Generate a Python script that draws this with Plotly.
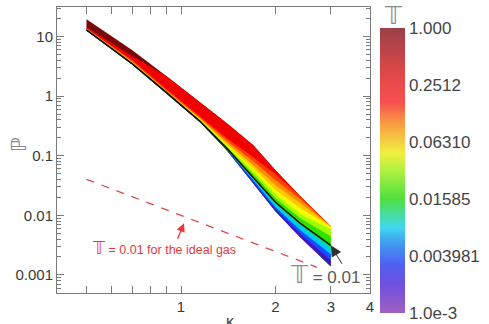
import math
import plotly.graph_objects as go

# ---- data ----
kappa = [0.5, 0.7, 0.9, 1.15, 1.4, 1.7, 2.0, 2.4, 3.0]

# boundary curves of the coloured band, top to bottom (P values)
p_top    = [19.44, 5.868, 2.149, 0.787, 0.3497, 0.1494, 0.0569, 0.02084, 0.006537]
p_c1     = [14.27, 4.653, 2.149, 0.787, 0.3497, 0.1494, 0.0569, 0.02084, 0.006537]
p_c2     = [13.73, 3.988, 1.300, 0.4582, 0.1958, 0.0940, 0.04873, 0.02084, 0.006537]
p_c3     = [13.57, 3.792, 1.237, 0.4324, 0.1778, 0.0805, 0.03867, 0.01856, 0.006537]
p_c4     = [13.42, 3.690, 1.204, 0.4160, 0.1646, 0.06902, 0.03187, 0.01590, 0.006537]
p_c5     = [13.31, 3.620, 1.181, 0.4034, 0.1524, 0.06145, 0.02627, 0.01311, 0.006412]
p_c6     = [13.21, 3.565, 1.167, 0.3926, 0.1449, 0.05474, 0.02251, 0.01039, 0.005823]
p_c7     = [13.11, 3.524, 1.158, 0.3851, 0.1383, 0.04873, 0.01929, 0.00891, 0.004443]
p_t001   = [12.95, 3.483, 1.145, 0.3777, 0.1331, 0.04341, 0.01652, 0.007340, 0.003138]
p_d1     = [12.95, 3.483, 1.145, 0.3777, 0.1300, 0.04097, 0.01500, 0.006537, 0.002689]
p_d2     = [12.95, 3.483, 1.145, 0.3777, 0.1275, 0.03867, 0.01362, 0.005602, 0.002216]
p_d3     = [12.95, 3.483, 1.145, 0.3777, 0.1256, 0.03649, 0.01261, 0.004892, 0.001758]
p_bottom = [12.56, 3.377, 1.110, 0.3663, 0.1232, 0.03442, 0.01167, 0.004274, 0.001394]

# ideal gas line, T = 0.01
ideal_kappa = [0.5, 2.71]
ideal_p = [0.0402, 0.00134]

# colour bar (log10 T)
cbar_vals = [-3, -2.4, -1.8, -1.2, -0.6, 0]
cbar_text = ["1.0e-3", "0.003981", "0.01585", "0.06310", "0.2512", "1.000"]

x_tickvals = [0.5, 0.6, 0.7, 0.8, 0.9, 1, 2, 3, 4]
x_ticktext = ["", "", "", "", "", "1", "2", "3", "4"]
y_tickvals = [0.001, 0.01, 0.1, 1, 10]
y_ticktext = ["0.001", "0.01", "0.1", "1", "10"]

# ---- styling ----
boundaries = [p_top, p_c1, p_c2, p_c3, p_c4, p_c5, p_c6, p_c7, p_t001,
              p_d1, p_d2, p_d3, p_bottom]
region_colors = ["#7a0808", "#f00000", "#ff4000", "#ff8c00", "#ffc800",
                 "#f0ff00", "#a0ff00", "#30e000", "#00e090", "#00c8ff",
                 "#1050ff", "#4a10c0"]

cbar_scale = [
    [0.00, "#a060c0"], [0.10, "#7050e0"], [0.17, "#5060f0"],
    [0.25, "#40a0f0"], [0.30, "#40d8f0"], [0.40, "#50e040"],
    [0.50, "#b0f040"], [0.56, "#f0f040"], [0.66, "#f8a040"],
    [0.74, "#f85050"], [0.84, "#e04848"], [1.00, "#9a4048"],
]

FONT = "Liberation Sans, Arial, DejaVu Sans, sans-serif"
AXC = "#7a7a7a"
fig = go.Figure()

# each colour region is painted from its upper boundary down to the band's
# bottom edge; later regions cover the lower part, so no seams appear
for i, col in enumerate(region_colors):
    upper = boundaries[i]
    lower = p_bottom
    fig.add_trace(go.Scatter(
        x=kappa + kappa[::-1], y=upper + lower[::-1],
        fill="toself", fillcolor=col, mode="lines",
        line=dict(color=col, width=0), hoverinfo="skip", showlegend=False))

fig.add_trace(go.Scatter(x=kappa, y=p_t001, mode="lines",
                         line=dict(color="#101010", width=1.6),
                         showlegend=False, hoverinfo="skip"))

fig.add_trace(go.Scatter(x=ideal_kappa, y=ideal_p, mode="lines",
                         line=dict(color="#e04848", width=1.3, dash="8px,8px"),
                         showlegend=False, hoverinfo="skip"))

# colour bar carrier
fig.add_trace(go.Scatter(
    x=[1, 1], y=[1, 1], mode="markers",
    marker=dict(size=0.1, opacity=0, color=[-3, 0], cmin=-3, cmax=0,
                colorscale=cbar_scale, showscale=True,
                colorbar=dict(
                    x=1.032, xanchor="left", xref="paper",
                    y=-0.07, yanchor="bottom", len=0.9965, lenmode="fraction",
                    thickness=25, outlinewidth=0, xpad=0, ypad=0,
                    tickmode="array", tickvals=cbar_vals, ticktext=cbar_text,
                    ticks="", tickfont=dict(size=17, color="#444", family=FONT))),
    showlegend=False, hoverinfo="skip"))

# invisible carrier for the right-hand mirrored y axis
fig.add_trace(go.Scatter(x=[1], y=[1], yaxis="y2", mode="markers",
                         marker=dict(size=0.1, opacity=0),
                         showlegend=False, hoverinfo="skip"))

axis_common = dict(showline=True, linecolor=AXC, linewidth=1, mirror="ticks",
                   ticks="inside", tickcolor=AXC, showgrid=False, zeroline=False,
                   automargin=False,
                   tickfont=dict(size=15, color="#3a3a3a", family=FONT))

minor_y = [m * 10.0 ** e for e in range(-4, 2) for m in range(2, 10)]
minor_cfg = dict(tickmode="array", tickvals=minor_y, ticks="inside",
                 ticklen=4, tickcolor=AXC)

fig.update_layout(
    xaxis=dict(type="log", range=[-0.395, 0.602], tickmode="array",
               tickvals=x_tickvals, ticktext=x_ticktext, ticklen=7, **axis_common),
    yaxis=dict(type="log", range=[-3.304, 1.495], tickmode="array",
               tickvals=y_tickvals, ticktext=y_ticktext, ticklen=7,
               minor=minor_cfg, **axis_common),
    yaxis2=dict(type="log", range=[-3.304, 1.495], overlaying="y", side="right",
                tickmode="array", tickvals=y_tickvals, ticklen=7, ticks="inside",
                tickcolor=AXC, showticklabels=False, showgrid=False, zeroline=False,
                showline=False, automargin=False, minor=minor_cfg),
)

TT = "\U0001D54B"
C = dict(xanchor="center", yanchor="middle", showarrow=False)
annotations = [
    # y label
    dict(text="\u2119", xref="paper", yref="paper", x=-0.122, y=0.52,
         textangle=-90, font=dict(size=21, color="#8a8a8a", family="DejaVu Sans"), **C),
    # x label
    dict(text="\u03ba", xref="paper", yref="paper", x=0.553, y=-0.098,
         font=dict(size=16, color="#444", family=FONT), **C),
    # colour bar title
    dict(text=TT, xref="paper", yref="paper", x=1.0735, y=0.9685,
         font=dict(size=24, color="#8a8a8a", family="DejaVu Sans"), **C),
    # T = 0.01 label
    dict(text="<span style='font-size:24px;color:#8a8a8a'>" + TT + "</span> = 0.01",
         xref="paper", yref="paper", x=0.856, y=0.063,
         font=dict(size=17, color="#5a5a5a", family=FONT), **C),
    dict(text="", x=math.log10(3.0), y=math.log10(p_t001[-1]), xref="x", yref="y",
         showarrow=True, ax=12, ay=20, arrowhead=2, arrowsize=2.2, arrowwidth=1,
         arrowcolor="#303030"),
    # ideal gas label
    dict(text="<span style='font-size:17px'>" + TT + "</span> = 0.01 for the ideal gas",
         xref="paper", yref="paper", x=0.342, y=0.157,
         font=dict(size=12.5, color="#e8383c", family=FONT), **C),
    dict(text="", x=math.log10(1.022), y=math.log10(0.00734), xref="x", yref="y",
         showarrow=True, ax=-7, ay=17, arrowhead=2, arrowsize=1.3, arrowwidth=1.3,
         arrowcolor="#e8383c"),
]

fig.update_layout(width=489, height=324,
                  margin=dict(l=57, r=119, t=7, b=31, autoexpand=False),
                  paper_bgcolor="white", plot_bgcolor="white",
                  font=dict(family=FONT), annotations=annotations)

fig.write_html("out.html", config={"displayModeBar": False},
               post_script="document.body.style.margin='0px';document.body.style.overflow='hidden';")
